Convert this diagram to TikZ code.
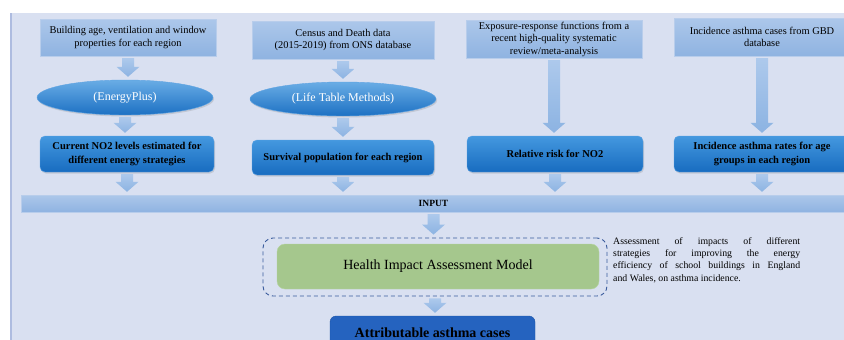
\documentclass[tikz,border=0pt]{standalone}
\usepackage{fontspec}
\setmainfont{Liberation Serif}
\usetikzlibrary{shapes.geometric,shadows,calc}
\definecolor{bgc}{HTML}{D9E0F1}
\definecolor{bgline}{HTML}{AEBCE0}
\definecolor{intop}{HTML}{ACC7EA}
\definecolor{inbot}{HTML}{8FB3E1}
\definecolor{inborder}{HTML}{B8CDEB}
\definecolor{bltop}{HTML}{4498DF}
\definecolor{blbot}{HTML}{186CC0}
\definecolor{blborder}{HTML}{5FA3E2}
\definecolor{arrtop}{HTML}{ADC9EC}
\definecolor{arrbot}{HTML}{8CB3E2}
\definecolor{dashc}{HTML}{3A5B9C}
\definecolor{greenc}{HTML}{A5C78D}
\definecolor{greenb}{HTML}{B5D3A0}
\definecolor{attc}{HTML}{2563BF}
\definecolor{attb}{HTML}{1D55A8}
\newcommand\barr[2]{\path[arrowfill] let \p1=(#1), \p2=(#2) in
  (\x1-6pt,\y1-2pt) -- (\x1+6pt,\y1-2pt) -- (\x1+6pt,\y2+13pt) -- (\x1+11.5pt,\y2+13pt)
  -- (\x1,\y2+3pt) -- (\x1-11.5pt,\y2+13pt) -- (\x1-6pt,\y2+13pt) -- cycle;}
\begin{document}
\begin{tikzpicture}[x=1pt,y=-1pt,
  inbox/.style={rectangle, draw=inborder, top color=intop, bottom color=inbot, align=center,
    inner sep=1pt, font=\fontsize{10.4}{12.5}\selectfont},
  ellbox/.style={ellipse, draw=blborder, top color=bltop!80!white, bottom color=blbot!90!bltop, text=white,
    inner sep=0pt, font=\fontsize{12}{14}\selectfont,
    drop shadow={opacity=0.25, shadow xshift=1pt, shadow yshift=-1.5pt}},
  bluebox/.style={rectangle, rounded corners=5pt, draw=blborder, top color=bltop, bottom color=blbot,
    align=center, inner sep=1pt, font=\fontsize{10.5}{13.5}\selectfont\bfseries,
    drop shadow={opacity=0.25, shadow xshift=1pt, shadow yshift=-1.5pt}},
  arrowfill/.style={top color=arrtop, bottom color=arrbot}]
\useasboundingbox (0,0) rectangle (844,340);
\clip (0,0) rectangle (844,340);
\fill[bgc] (10,13) rectangle (846,342);
\draw[bgline, line width=2pt] (11,13) -- (11,342);

% top inputs
\node[inbox, minimum width=176pt, minimum height=37pt] (t1) at (128,37.5)
  {Building age, ventilation and window\\properties for each region};
\node[inbox, minimum width=182pt, minimum height=38pt] (t2) at (343,40)
  {Census and Death data\\(2015-2019) from ONS database};
\node[inbox, minimum width=176pt, minimum height=38pt] (t3) at (554,39)
  {Exposure-response functions from a\\recent high-quality systematic\\review/meta-analysis};
\node[inbox, minimum width=176pt, minimum height=38pt] (t4) at (762,37)
  {Incidence asthma cases from GBD\\database};

% ellipses
\node[ellbox, minimum width=176pt, minimum height=35pt] (e1) at (125,97.5) {(EnergyPlus)};
\node[ellbox, minimum width=186pt, minimum height=34pt] (e2) at (343,99) {(Life Table Methods)};

% blue boxes
\node[bluebox, minimum width=174pt, minimum height=36pt] (b1) at (127,154)
  {Current NO2 levels estimated for\\different energy strategies};
\node[bluebox, minimum width=182pt, minimum height=35pt] (b2) at (343,157.5)
  {Survival population for each region};
\node[bluebox, minimum width=176pt, minimum height=36pt] (b3) at (555,154)
  {Relative risk for NO2};
\node[bluebox, minimum width=176pt, minimum height=36pt] (b4) at (762,154)
  {Incidence asthma rates for age\\groups in each region};

% input bar
\node[rectangle, draw=inborder, top color=intop, bottom color=inbot, minimum width=825pt,
  minimum height=17pt, inner sep=0pt, font=\fontsize{9.5}{11}\selectfont\bfseries] (inp) at (433.5,203.5) {INPUT};

% HIA model
\node[rectangle, draw=dashc, dashed, dash pattern=on 4pt off 3pt, line width=0.9pt, rounded corners=10pt,
  minimum width=344pt, minimum height=58pt] (dash) at (435,267) {};
\node[rectangle, draw=greenb, fill=greenc, rounded corners=8pt, minimum width=322pt, minimum height=45pt,
  font=\fontsize{14}{16}\selectfont] (hia) at (438,266.5) {Health Impact Assessment Model};
\node[anchor=north west, text width=187pt, align=justify, inner sep=0pt,
  font=\fontsize{9.8}{12.3}\selectfont] (note) at (613,237)
  {\hyphenpenalty=10000 Assessment of impacts of different\linebreak strategies for improving the energy\linebreak efficiency of school buildings in England\linebreak and Wales, on asthma incidence.};

% output
\node[rectangle, draw=attb, fill=attc, rounded corners=6pt, minimum width=205pt, minimum height=34pt,
  font=\fontsize{14}{16}\selectfont\bfseries] (att) at (432.5,333) {Attributable asthma cases};

% block arrows
\barr{t1.south}{e1.north}
\barr{e1.south}{b1.north}
\barr{t2.south}{e2.north}
\barr{e2.south}{b2.north}
\barr{t3.south}{b3.north}
\barr{t4.south}{b4.north}
\barr{b1.south}{inp.north}
\barr{b2.south}{inp.north}
\barr{b3.south}{inp.north}
\barr{b4.south}{inp.north}
\barr{inp.south}{dash.north}
\barr{dash.south}{att.north}
\end{tikzpicture}
\end{document}
